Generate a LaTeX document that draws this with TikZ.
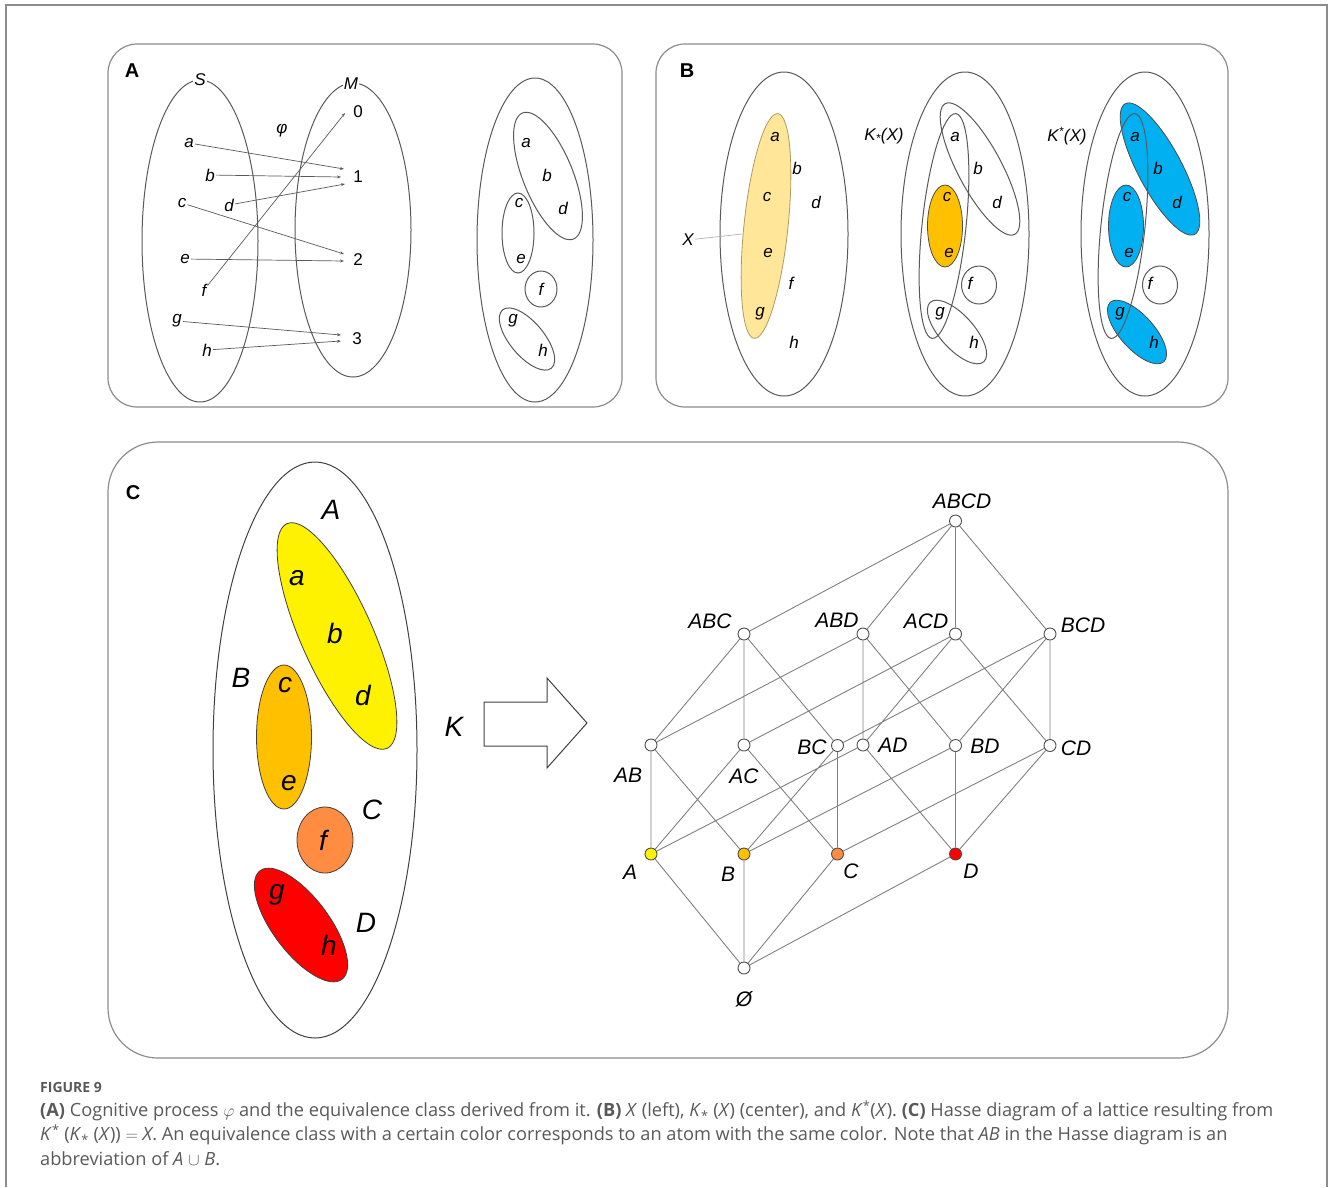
\documentclass[tikz,border=0pt]{standalone}
\usepackage{fontspec}
\setsansfont{Liberation Sans}
\newfontfamily\capfont{Open Sans}
\usetikzlibrary{arrows.meta}

\definecolor{frame}{HTML}{8C8C8C}
\definecolor{paleyellow}{HTML}{FFE699}
\definecolor{paleedge}{HTML}{B09A60}
\definecolor{gold}{HTML}{FFC000}
\definecolor{skyblue}{HTML}{00B0F0}
\definecolor{atomorange}{HTML}{FF8C40}
\definecolor{captext}{HTML}{595959}

\begin{document}
\begin{tikzpicture}[x=1pt,y=-1pt,
  box/.style={draw=frame,line width=1.2pt,rounded corners=29pt},
  set/.style={draw=black!65,line width=1pt},
  fillset/.style={draw=black!75,line width=0.8pt},
  lab/.style={font=\fontsize{17}{17}\selectfont\sffamily\itshape,inner sep=1pt},
  num/.style={font=\fontsize{17}{17}\selectfont\sffamily,inner sep=1pt},
  big/.style={font=\fontsize{28}{28}\selectfont\sffamily\itshape,inner sep=1pt},
  hl/.style={font=\fontsize{21}{21}\selectfont\sffamily\itshape,inner sep=1pt},
  panel/.style={font=\fontsize{20}{20}\selectfont\sffamily\bfseries},
  map/.style={draw=black!65,line width=0.7pt,-{Stealth[length=4pt,width=3pt]}},
  vtx/.style={circle,draw=black!70,fill=white,line width=0.9pt,minimum size=12pt,inner sep=0pt},
  edge/.style={draw=black!50,line width=0.9pt},
  captxt/.style={font=\fontsize{18.2}{22}\selectfont\capfont,text=captext,inner sep=0pt,anchor=west}]
\useasboundingbox (0,0) rectangle (1330,1187);
\draw [draw=frame,line width=1.2pt] (6,1187) -- (6,5) -- (1327,5) -- (1327,1187);

\draw [box] (108,44) rectangle (622,407);
\draw [box] (656,44) rectangle (1228,407);
\draw [box,rounded corners=50pt] (108,442) rectangle (1228,1058);
\node[panel] (pa) at (132,71) {A};
\node[panel] (pb) at (687,71) {B};
\node[panel] (pc) at (133,493) {C};

\draw [set] (200,241) ellipse [x radius=58, y radius=161];
\draw [set] (353,230) ellipse [x radius=58, y radius=147];
\node[lab,fill=white] (S) at (200,80) {S};
\node[lab,fill=white] (M) at (351,84) {M};
\node[lab] (phi) at (282,131) {φ};
\node[lab] (sa) at (189,143) {a};
\node[lab] (sb) at (210,175) {b};
\node[lab] (sc) at (182,203) {c};
\node[lab] (sd) at (229,205) {d};
\node[lab] (se) at (185,259) {e};
\node[lab] (sf) at (204,290) {f};
\node[lab] (sg) at (177,321) {g};
\node[lab] (sh) at (207,350) {h};
\node[num] (m0) at (358,112) {0};
\node[num] (m1) at (358,177) {1};
\node[num] (m2) at (358,260) {2};
\node[num] (m3) at (357,339) {3};
\coordinate (t0) at (345,113);
\coordinate (t1a) at (344,169);
\coordinate (t1b) at (341,177);
\coordinate (t1d) at (345,184);
\coordinate (t2c) at (344,254);
\coordinate (t2e) at (344,261);
\coordinate (t3g) at (341,335);
\coordinate (t3h) at (341,341);
\draw [map] (sa) -- (t1a);
\draw [map] (sb) -- (t1b);
\draw [map] (sd) -- (t1d);
\draw [map] (sc) -- (t2c);
\draw [map] (se) -- (t2e);
\draw [map] (sf) -- (t0);
\draw [map] (sg) -- (t3g);
\draw [map] (sh) -- (t3h);

\draw [set] (535,240) ellipse [x radius=58, y radius=162];
\draw [set,rotate around={22:(548,176)}] (548,176) ellipse [x radius=25, y radius=68];
\draw [set] (518,233) ellipse [x radius=16, y radius=40];
\draw [set] (541,289) ellipse [x radius=16, y radius=18];
\draw [set,rotate around={40:(527,339)}] (527,339) ellipse [x radius=17, y radius=38];
\node[lab] (qa) at (526,143) {a};
\node[lab] (qb) at (547,175) {b};
\node[lab] (qd) at (563,208) {d};
\node[lab] (qc) at (519,203) {c};
\node[lab] (qe) at (521,259) {e};
\node[lab] (qf) at (541,289) {f};
\node[lab] (qg) at (513,321) {g};
\node[lab] (qh) at (543,350) {h};

\draw [set] (784,234) ellipse [x radius=64, y radius=162];
\draw [fill=paleyellow,draw=paleedge,line width=0.8pt,rotate around={-6:(766,226)}] (766,226) ellipse [x radius=22, y radius=113];
\node[lab] (xa) at (775,137) {a};
\node[lab] (xb) at (797,168) {b};
\node[lab] (xc) at (767,197) {c};
\node[lab] (xd) at (816,202) {d};
\node[lab] (xe) at (768,253) {e};
\node[lab] (xf) at (791,283) {f};
\node[lab] (xg) at (760,314) {g};
\node[lab] (xh) at (794,342) {h};
\node[lab] (X) at (688,240) {X};
\coordinate (xedge) at (742,234);
\draw [draw=black!35,line width=0.6pt] (X) -- (xedge);

\node[lab] (klow) at (884,136) {K\textsubscript{*}(X)};
\draw [set] (965,234) ellipse [x radius=64, y radius=162];
\draw [fill=gold,draw=black!70,line width=0.8pt] (945,226) ellipse [x radius=17.5, y radius=41];
\draw [set,rotate around={28:(980,169)}] (980,169) ellipse [x radius=22, y radius=74];
\draw [set] (979,285) ellipse [x radius=17.5, y radius=19];
\draw [set,rotate around={42:(957,332)}] (957,332) ellipse [x radius=17, y radius=40];
\draw [set,rotate around={-6:(944,226)}] (944,226) ellipse [x radius=22, y radius=113];
\node[lab] (ka) at (955,137) {a};
\node[lab] (kb) at (978,168) {b};
\node[lab] (kc) at (947,197) {c};
\node[lab] (kd) at (997,202) {d};
\node[lab] (ke) at (949,253) {e};
\node[lab] (kf) at (970,283) {f};
\node[lab] (kg) at (940,314) {g};
\node[lab] (kh) at (974,342) {h};

\node[lab] (kup) at (1067,136) {K\textsuperscript{*}(X)};
\draw [set] (1145,234) ellipse [x radius=64, y radius=162];
\draw [fill=skyblue,draw=black!70,line width=0.8pt,rotate around={28:(1160,169)}] (1160,169) ellipse [x radius=22, y radius=74];
\draw [fill=skyblue,draw=black!70,line width=0.8pt] (1126,226) ellipse [x radius=17.5, y radius=41];
\draw [fill=skyblue,draw=black!70,line width=0.8pt,rotate around={42:(1137,332)}] (1137,332) ellipse [x radius=17, y radius=40];
\draw [set] (1160,285) ellipse [x radius=17.5, y radius=19];
\draw [set,rotate around={-6:(1123,226)}] (1123,226) ellipse [x radius=22, y radius=113];
\node[lab] (ua) at (1135,137) {a};
\node[lab] (ub) at (1158,168) {b};
\node[lab] (uc) at (1127,197) {c};
\node[lab] (ud) at (1177,202) {d};
\node[lab] (ue) at (1129,253) {e};
\node[lab] (uf) at (1150,283) {f};
\node[lab] (ug) at (1120,314) {g};
\node[lab] (uh) at (1154,342) {h};

\draw [set,draw=black!75] (315,750) ellipse [x radius=102, y radius=288];
\draw [fillset,fill=yellow,rotate around={24:(337,636)}] (337,636) ellipse [x radius=36, y radius=123];
\draw [fillset,fill=gold] (284,737) ellipse [x radius=27.5, y radius=72];
\draw [fillset,fill=atomorange] (325,840) ellipse [x radius=28, y radius=33];
\draw [fillset,fill=red,rotate around={37:(301,925)}] (301,925) ellipse [x radius=28, y radius=68];
\node[big] (cA) at (331,510) {A};
\node[big] (ca) at (297,578) {a};
\node[big] (cb) at (335,633) {b};
\node[big] (cd) at (363,695) {d};
\node[big] (cB) at (241,678) {B};
\node[big] (cc) at (285,685) {c};
\node[big] (ce) at (289,783) {e};
\node[big] (cC) at (372,810) {C};
\node[big] (cf) at (323,840) {f};
\node[big] (cD) at (366,923) {D};
\node[big] (cg) at (277,895) {g};
\node[big] (ch) at (329,945) {h};

\node[big] (K) at (454,727) {K};
\draw [draw=black!75,line width=1pt] (484,702) -- (547,702) -- (547,678) -- (587,723) -- (547,768) -- (547,746) -- (484,746) -- cycle;

\node[vtx] (ABCD) at (955.5,521) {};
\node[vtx] (ABC) at (744,634) {};
\node[vtx] (ABD) at (863,634) {};
\node[vtx] (ACD) at (955.5,634) {};
\node[vtx] (BCD) at (1050,634) {};
\node[vtx] (AB) at (651,745) {};
\node[vtx] (AC) at (744,745) {};
\node[vtx] (BC) at (837.5,745.5) {};
\node[vtx] (AD) at (863,745) {};
\node[vtx] (BD) at (955.5,745.5) {};
\node[vtx] (CD) at (1050,745.5) {};
\node[vtx,fill=yellow] (A) at (651,854) {};
\node[vtx,fill=gold] (B) at (744,854) {};
\node[vtx,fill=atomorange] (C) at (837.5,854) {};
\node[vtx,fill=red] (D) at (955.5,854) {};
\node[vtx] (E) at (744,968) {};
\draw [edge] (ABCD) -- (ABC) (ABCD) -- (ABD) (ABCD) -- (ACD) (ABCD) -- (BCD)
  (ABC) -- (AB) (ABC) -- (AC) (ABC) -- (BC)
  (ABD) -- (AB) (ABD) -- (AD) (ABD) -- (BD)
  (ACD) -- (AC) (ACD) -- (AD) (ACD) -- (CD)
  (BCD) -- (BC) (BCD) -- (BD) (BCD) -- (CD)
  (AB) -- (A) (AB) -- (B) (AC) -- (A) (AC) -- (C)
  (AD) -- (A) (AD) -- (D) (BC) -- (B) (BC) -- (C)
  (BD) -- (B) (BD) -- (D) (CD) -- (C) (CD) -- (D)
  (A) -- (E) (B) -- (E) (C) -- (E) (D) -- (E);
\node[hl] (ABCD-t) at (962,501) {ABCD};
\node[hl] (ABC-t) at (710,621) {ABC};
\node[hl] (ABD-t) at (837,620) {ABD};
\node[hl] (ACD-t) at (926,621) {ACD};
\node[hl] (BCD-t) at (1083,625) {BCD};
\node[hl] (AB-t) at (628,775) {AB};
\node[hl] (AC-t) at (744,776) {AC};
\node[hl] (BC-t) at (812,747) {BC};
\node[hl] (AD-t) at (893,745) {AD};
\node[hl] (BD-t) at (985,746) {BD};
\node[hl] (CD-t) at (1076,748) {CD};
\node[hl] (A-t) at (630,872) {A};
\node[hl] (B-t) at (728,874) {B};
\node[hl] (C-t) at (851,871) {C};
\node[hl] (D-t) at (971,871) {D};
\node[hl] (E-t) at (744,999) {Ø};

\node[captxt,font=\fontsize{14}{16}\selectfont\capfont\bfseries] (fig) at (40,1087) {FIGURE 9};
\node[captxt] (line1) at (40,1111) {{\bfseries(A)} Cognitive process $\varphi$ and the equivalence class derived from it. {\bfseries(B)} \textit{X} (left), \textit{K}\textsubscript{*} (\textit{X}) (center), and \textit{K}\textsuperscript{*}(\textit{X}). {\bfseries(C)} Hasse diagram of a lattice resulting from};
\node[captxt] (line2) at (40,1135) {\textit{K}\textsuperscript{*} (\textit{K}\textsubscript{*} (\textit{X})) $=$ \textit{X}. An equivalence class with a certain color corresponds to an atom with the same color. Note that \textit{AB} in the Hasse diagram is an};
\node[captxt] (line3) at (40,1159) {abbreviation of \textit{A} $\cup$ \textit{B}.};
\end{tikzpicture}
\end{document}
